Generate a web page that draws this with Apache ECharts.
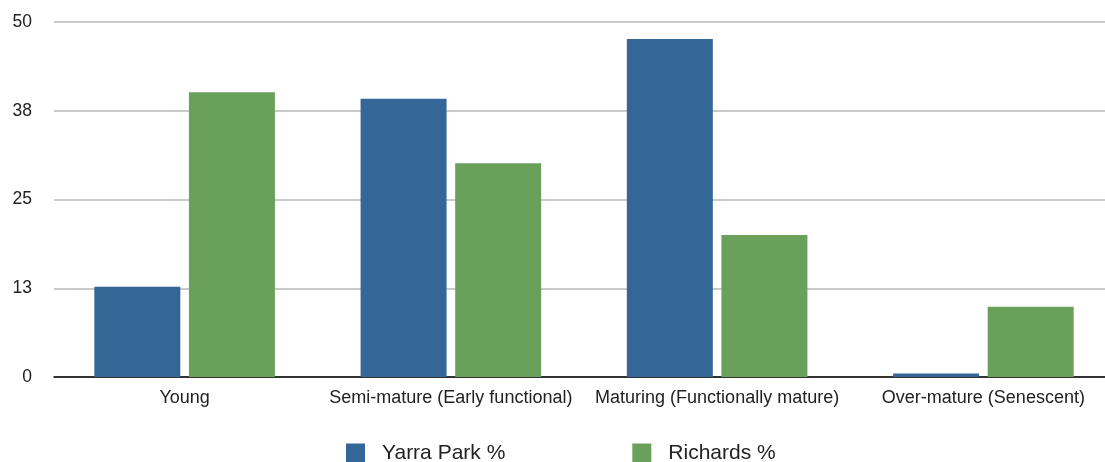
<!DOCTYPE html>
<html>
<head>
<meta charset="utf-8">
<script src="https://cdn.jsdelivr.net/npm/echarts@6/dist/echarts.min.js"></script>
<style>
  html, body { margin: 0; padding: 0; background: #fff; }
  #chart { width: 1105px; height: 462px; }
</style>
</head>
<body>
<div id="chart"></div>
<script>
var categories = ['Young', 'Semi-mature (Early functional)', 'Maturing (Functionally mature)', 'Over-mature (Senescent)'];
var yarraPark = [12.7, 39.2, 47.6, 0.5];
var richards = [40.1, 30.1, 20.0, 9.9];

var myChart = echarts.init(document.getElementById('chart'), null, { renderer: 'canvas' });

var option = {
    animation: false,
    textStyle: { fontFamily: 'Liberation Sans, Arial, sans-serif' },
    // grid 0 carries the gridlines and the baseline, grid 1 the bars and category labels
    grid: [
        { left: 54, right: 0, top: 22, bottom: 85, outerBoundsMode: 'none' },
        { left: 51.5, width: 1065, top: 22, bottom: 85, outerBoundsMode: 'none' }
    ],
    legend: {
        top: 443,
        left: 346,
        itemWidth: 19,
        itemHeight: 20,
        itemGap: 127,
        icon: 'rect',
        padding: 0,
        textStyle: { fontSize: 21, color: '#222', padding: [4, 0, 0, 12] },
        data: ['Yarra Park %', 'Richards %']
    },
    xAxis: [
        {
            type: 'category',
            gridIndex: 0,
            data: categories,
            axisLine: { lineStyle: { color: '#000', width: 1.5 } },
            axisTick: { show: false },
            axisLabel: { show: false }
        },
        {
            type: 'category',
            gridIndex: 1,
            data: categories,
            axisLine: { show: false },
            axisTick: { show: false },
            axisLabel: { color: '#222', fontSize: 18, margin: 12, interval: 0 }
        }
    ],
    yAxis: [
        {
            type: 'value',
            gridIndex: 0,
            min: 0,
            max: 50,
            interval: 12.5,
            axisLine: { show: false },
            axisTick: { show: false },
            axisLabel: {
                color: '#222',
                fontSize: 17.5,
                margin: 22,
                formatter: function (v) { return Math.round(v); }
            },
            splitLine: { lineStyle: { color: '#b8b8b8', width: 1.5 } }
        },
        {
            type: 'value',
            gridIndex: 1,
            min: 0,
            max: 50,
            interval: 12.5,
            show: false
        }
    ],
    series: [
        {
            name: 'Yarra Park %',
            type: 'bar',
            xAxisIndex: 1,
            yAxisIndex: 1,
            data: yarraPark,
            barWidth: 86,
            barGap: '10%',
            itemStyle: { color: '#356796' }
        },
        {
            name: 'Richards %',
            type: 'bar',
            xAxisIndex: 1,
            yAxisIndex: 1,
            data: richards,
            barWidth: 86,
            itemStyle: { color: '#69a05a' }
        }
    ]
};

myChart.setOption(option);
window.addEventListener('resize', myChart.resize);
</script>
</body>
</html>
